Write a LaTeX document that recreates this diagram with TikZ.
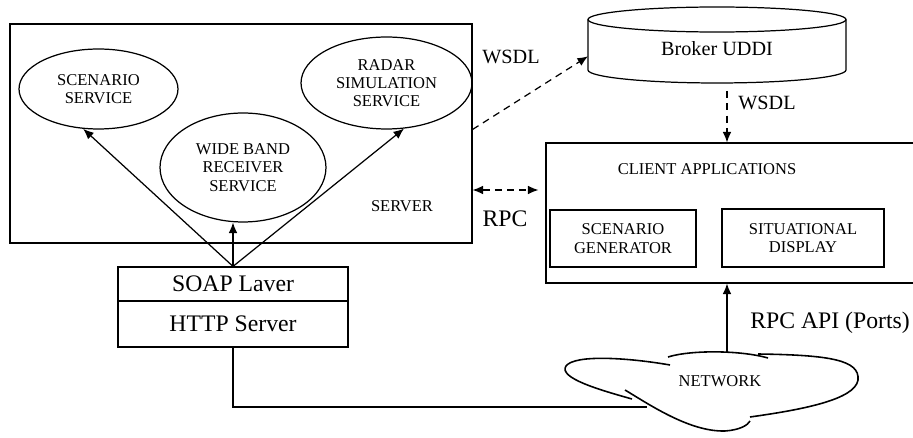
\documentclass[tikz,border=0pt]{standalone}
\usepackage{fontspec}
\setmainfont{Liberation Serif}
\usetikzlibrary{arrows.meta,calc}
\usetikzlibrary{positioning,shapes.geometric}

\newcommand{\txtp}{\fontsize{9.4}{10.4}\selectfont}
\newcommand{\txtm}{\fontsize{11.5}{13}\selectfont}
\newcommand{\txtg}{\fontsize{13.5}{15}\selectfont}

\tikzset{
  caixa/.style={draw, rectangle, inner sep=0pt, align=center, font=\txtp},
  elipse/.style={draw, ellipse, inner sep=0pt, align=center, font=\txtp},
  rotulo/.style={inner sep=0pt, outer sep=0pt, align=center},
  seta/.style={-{Latex[length=6pt,width=5pt]}},
  dupla/.style={{Latex[length=6pt,width=5pt]}-{Latex[length=6pt,width=5pt]}},
  tracejado/.style={dash pattern=on 4pt off 3pt},
}

\begin{document}
\begin{tikzpicture}[x=0.02cm, y=-0.02cm, line width=0.7pt]
\useasboundingbox (0,0) rectangle (913,438);

% servidor com os servicos
\node[caixa, minimum width=9.24cm, minimum height=4.38cm] (server) at (241,133.5) {};
\node[rotulo, font=\txtp] (lblserver) at (402,206) {SERVER};
\node[elipse, minimum width=3.18cm, minimum height=1.6cm] (scen) at (98.5,89) {SCENARIO\\SERVICE};
\node[elipse, minimum width=3.32cm, minimum height=2.18cm] (wide) at (243,167.5) {WIDE BAND\\RECEIVER\\SERVICE};
\node[elipse, minimum width=3.42cm, minimum height=1.84cm] (radar) at (386.5,83) {RADAR\\SIMULATION\\SERVICE};

% camadas SOAP e HTTP
\node[caixa, font=\txtg, minimum width=4.6cm, minimum height=0.68cm] (soap) at (233,284) {SOAP Laver};
\node[caixa, font=\txtg, minimum width=4.6cm, minimum height=0.92cm, below=-0.7pt of soap] (http) {HTTP Server};

\draw[seta] (soap.north) -- (scen.249);
\draw[seta] (soap.north) -- (soap.north |- wide.south);
\draw[seta] (soap.north) -- (radar.291);

% broker UDDI (cilindro)
\node[rotulo, minimum width=5.16cm, minimum height=1.52cm] (uddi) at (717,45) {};
\node[rotulo, font=\txtm] (lbluddi) at (717,49) {Broker UDDI};
\draw ($(uddi.north)+(0,12.5)$) ellipse [x radius=2.58cm, y radius=0.25cm];
\draw ($(uddi.north west)+(0,12.5)$) -- ($(uddi.south west)+(0,-13)$)
      arc[start angle=180, end angle=360, x radius=2.58cm, y radius=0.26cm]
      -- ($(uddi.north east)+(0,12.5)$);

% aplicacoes cliente
\node[caixa, minimum width=7.4cm, minimum height=2.8cm] (client) at (731,213) {};
\node[rotulo, font=\txtp] (lblclient) at (707,169) {CLIENT APPLICATIONS};
\node[caixa, minimum width=2.92cm, minimum height=1.14cm] (gen) at (623,238.5) {SCENARIO\\GENERATOR};
\node[caixa, minimum width=3.24cm, minimum height=1.16cm] (disp) at (803,238) {SITUATIONAL\\DISPLAY};

% WSDL
\draw[seta, tracejado] (server.1.4) -- (uddi.185);
\node[rotulo, font=\txtm] (wsdla) at (511,57) {WSDL};
\coordinate (eixo) at (727,352);
\draw[seta, tracejado] ($(uddi.south -| eixo)+(0,8)$) -- (eixo |- client.north);
\node[rotulo, font=\txtm] (wsdlb) at (767,103) {WSDL};

% RPC
\coordinate (rpcy) at (0,190);
\draw[dupla, tracejado, shorten >=4pt] (server.east |- rpcy) -- (client.west |- rpcy);
\node[rotulo, font=\txtg] (lblrpc) at (505,219) {RPC};

% rede
\node[rotulo, font=\txtp] (net) at (720,381) {NETWORK};
\begin{scope}[line width=0.9pt]
\draw (670,365) .. controls (630,358) and (575,354) .. (566,366)
      .. controls (558,378) and (600,390) .. (632,399);
\draw (625,390) .. controls (650,405) and (690,432) .. (725,431)
      .. controls (740,430) and (748,425) .. (750,421);
\draw (750,417) .. controls (800,410) and (855,400) .. (858,380)
      .. controls (860,360) and (830,355) .. (758,354);
\draw (668,357) .. controls (690,350) and (740,350) .. (768,358);
\end{scope}
\draw[seta] (eixo) -- (eixo |- client.south);
\node[rotulo, font=\txtg] (lblapi) at (830,323) {RPC API (Ports)};
\coordinate (netin) at (647,407);
\draw (http.south) |- (netin);

\end{tikzpicture}
\end{document}
